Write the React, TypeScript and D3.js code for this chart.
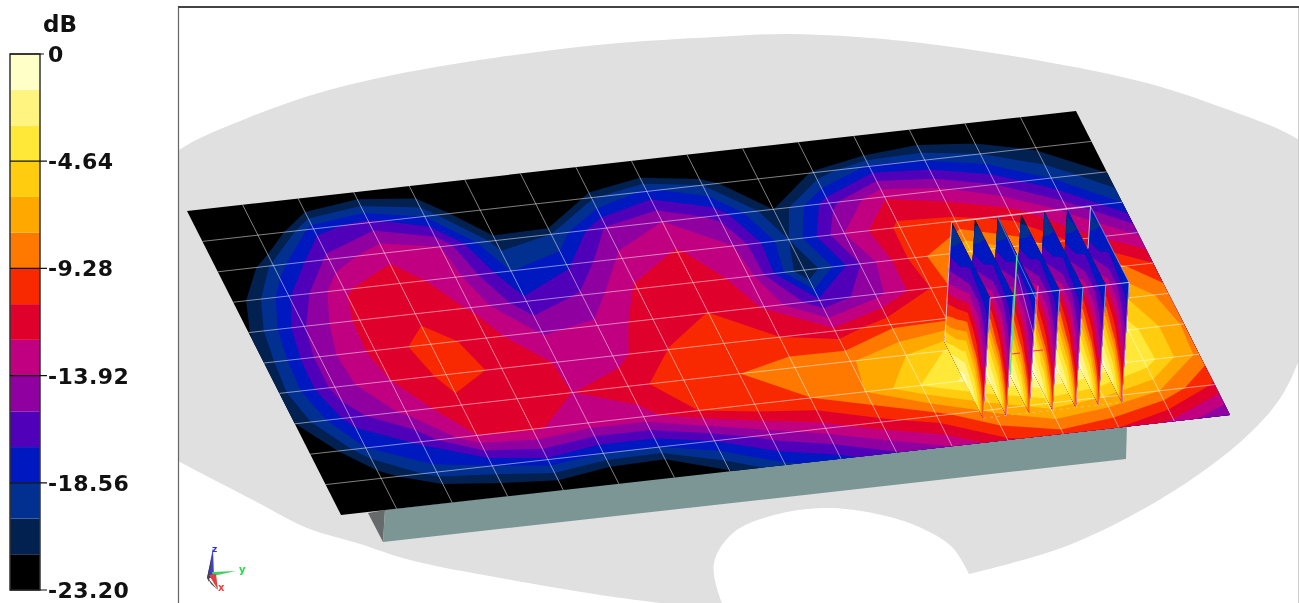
import React from "react";
import * as d3 from "d3";

// Legend
const legendTicks = [0, -4.64, -9.28, -13.92, -18.56, -23.2];
const legendLabels = ["0", "-4.64", "-9.28", "-13.92", "-18.56", "-23.20"];
const bandColors = ["#000000", "#022050", "#023090", "#0018c0", "#5000b8", "#9000a0", "#c00080", "#e0002c", "#f82800", "#ff7800", "#ffa800", "#ffcc10", "#ffe838", "#fff480", "#ffffc8"];
const bandEdges = d3.range(0, 16).map((i) => -23.2 + (i * 23.2) / 15);

// Plate field, dB, at the white grid crossings (row = across the plate)
const row0 = [-27.8, -27.8, -24.9, -23.2, -23.8, -27.8, -27.8, -27.8, -26.0, -27.8, -27.8, -27.8, -27.8, -24.7, -24.6, -26.3, -27.8];
const row1 = [-27.8, -25.2, -17.6, -16.4, -18.6, -25.4, -27.8, -20.4, -18.1, -20.1, -25.5, -21.3, -18.2, -18.6, -20.1, -22.0, -24.7];
const row2 = [-26.3, -19.6, -15.0, -12.8, -13.9, -20.9, -20.1, -15.2, -13.9, -15.9, -21.7, -16.0, -12.5, -13.5, -15.5, -18.6, -21.8];
const row3 = [-23.0, -17.2, -12.5, -11.6, -13.3, -18.6, -17.3, -13.5, -12.2, -13.9, -20.1, -13.9, -10.4, -10.4, -11.4, -14.4, -18.6];
const row4 = [-21.8, -15.6, -11.9, -11.3, -12.5, -16.7, -15.2, -12.1, -11.3, -13.1, -21.7, -15.5, -10.1, -6.2, -8.5, -11.6, -14.2];
const row5 = [-21.3, -14.8, -11.9, -10.1, -11.6, -14.1, -13.6, -11.4, -10.8, -12.5, -16.7, -14.5, -10.8, -6.2, -6.2, -7.7, -10.8];
const row6 = [-20.9, -14.8, -12.4, -10.4, -11.0, -12.5, -13.0, -10.8, -9.7, -10.8, -11.9, -9.7, -9.7, -5.4, -4.6, -5.4, -8.5];
const row7 = [-21.7, -16.2, -13.5, -11.1, -11.0, -12.4, -11.4, -9.9, -9.3, -8.4, -7.9, -6.2, -3.9, -2.3, -2.3, -3.9, -8.0];
const row8 = [-24.7, -18.6, -16.7, -12.4, -12.2, -13.0, -13.0, -10.8, -9.6, -9.3, -7.7, -4.6, -2.3, -0.8, -1.5, -3.7, -8.2];
const row9 = [-27.8, -22.7, -19.2, -18.6, -17.3, -18.6, -18.6, -17.0, -14.7, -13.1, -11.3, -9.9, -7.3, -5.4, -6.2, -7.7, -11.1];
const row10 = [-29.4, -27.8, -25.5, -24.0, -23.7, -25.5, -26.3, -21.8, -18.9, -17.6, -15.6, -13.9, -11.1, -9.9, -10.8, -12.8, -15.5];
const plateRows = [row0, row1, row2, row3, row4, row5, row6, row7, row8, row9, row10];

// Field on one fin: rows run from fin top to plate, columns from back to front
const finPos = [0, 0.25, 0.5, 0.75, 0.9, 1];
const finH0 = [-20.9, -18.6, -17.8, -17.6, -17.9, -18.6];
const finH1 = [-19.5, -17.9, -16.7, -17.2, -17.5, -17.9];
const finH2 = [-18.6, -17.2, -15.5, -15.5, -16.5, -17.3];
const finH3 = [-16.7, -15.5, -13.6, -14.1, -15.8, -16.5];
const finH4 = [-15.5, -13.9, -11.6, -12.7, -14.7, -15.8];
const finH5 = [-14.1, -12.1, -9.6, -11.4, -13.6, -15.0];
const finH6 = [-12.2, -10.2, -7.7, -10.1, -12.4, -14.2];
const finH7 = [-10.5, -8.5, -5.6, -7.6, -10.8, -12.7];
const finH8 = [-9.0, -6.5, -4.0, -5.4, -8.8, -11.8];
const finH9 = [-6.5, -4.2, -2.3, -3.6, -6.2, -10.8];
const finH10 = [-4.6, -2.3, -0.8, -2.2, -4.6, -10.1];
const finRows = [finH0, finH1, finH2, finH3, finH4, finH5, finH6, finH7, finH8, finH9, finH10];
const finU = [11.77, 12.19, 12.6, 13.02, 13.44, 13.85, 14.27];
const finTipDb = [-20.9, -20.9, -18.6, -22.4, -18.6, -17.0, -16.2];
const finV: [number, number] = [6.73, 9.23];

// Ground outline
const groundTop: [number, number][] = [[150, 178], [179, 150], [250, 117], [322, 92], [393, 75], [500, 57], [608, 44], [715, 37], [786, 34], [858, 37], [929, 44], [1036, 60], [1143, 82], [1215, 105], [1299, 140], [1330, 170]];
const groundRight: [number, number][] = [[1330, 250], [1299, 360], [1279, 400], [1250, 433], [1209, 467], [1147, 507], [1064, 547], [969, 574]];
const holeEdge: [number, number][] = [[969, 574], [952, 547], [919, 527], [882, 515], [828, 508], [774, 515], [733, 533], [714, 563], [722, 603], [735, 625]];
const groundLeft: [number, number][] = [[660, 603], [600, 595], [500, 578], [410, 560], [357, 543], [307, 528], [253, 500], [180, 462], [150, 445]];

const project = (() => {
  const ux = d3.scaleLinear().domain([0, 16]).range([0, 889]);
  const uy = d3.scaleLinear().domain([0, 16]).range([0, -100]);
  const vx = d3.scaleLinear().domain([0, 10]).range([0, 154]);
  const vy = d3.scaleLinear().domain([0, 10]).range([0, 304]);
  const hx = d3.scaleLinear().domain([0, 1]).range([0, 7]);
  const hy = d3.scaleLinear().domain([0, 1]).range([0, -120]);
  return (u: number, v: number, h = 0): [number, number] => [187 + ux(u) + vx(v) + hx(h), 211 + uy(u) + vy(v) + hy(h)];
})();

const poly = d3.line();
const closed = (pts: [number, number][]) => poly(pts) + "Z";

function bandPaths(rows: number[][], map: (cx: number, cy: number) => [number, number]) {
  const nx = rows[0].length, ny = rows.length;
  const gen = d3.contours().size([nx, ny]).smooth(true).thresholds(bandEdges.slice(1, 15));
  return gen(rows.flat()).map((c, i) => ({
    key: i,
    fill: bandColors[i + 1],
    d: c.coordinates.map((p) => p.map((r) => closed(r.map(([x, y]) => map(x, y)))).join("")).join(""),
  }));
}

const clamp = (a: number, lo: number, hi: number) => Math.max(lo, Math.min(hi, a));
const plateBands = bandPaths(plateRows, (x, y) => project(clamp(x - 0.5, 0, 16), clamp(y - 0.5, 0, 10)));
const plateOutline = closed([project(0, 0), project(16, 0), project(16, 10), project(0, 10)]);

const finSAt = d3.scaleLinear().domain(finPos.map((_, i) => i)).range(finPos);
const finHAt = d3.scaleLinear().domain([0, finRows.length - 1]).range([1, 0]);
const finVAt = d3.scaleLinear().domain([0, 1]).range(finV);
const fins = finU.map((u, i) => {
  const rows = finRows.map((r, j) => (j === 0 ? [finTipDb[i], ...r.slice(1)] : r));
  const map = (x: number, y: number) =>
    project(u, finVAt(finSAt(clamp(x - 0.5, 0, finPos.length - 1))), finHAt(clamp(y - 0.5, 0, finRows.length - 1)));
  return {
    u,
    bands: bandPaths(rows, map),
    outline: closed([project(u, finV[0], 0), project(u, finV[0], 1), project(u, finV[1], 1), project(u, finV[1], 0)]),
  };
});

const legendY = d3.scaleLinear().domain([0, -23.2]).range([54, 590]);
const wire = (a: [number, number], b: [number, number]) => poly([a, b]) as string;
const smooth = d3.line().curve(d3.curveCatmullRom.alpha(0.5));

export default function App() {
  const groundPath =
    smooth(groundTop) + "L" + smooth(groundRight)!.slice(1) + "L" + smooth(holeEdge)!.slice(1) + "L" + smooth(groundLeft)!.slice(1) + "Z";
  const lastU = finU[finU.length - 1];
  return (
    <svg width={1299} height={603} style={{ position: "absolute", left: 0, top: 0, background: "#fff", filter: "blur(0.35px)" }}>
      <defs>
        <clipPath id="panel"><rect x={179} y={8} width={1119} height={595} /></clipPath>
      </defs>
      <g clipPath="url(#panel)">
        <path d={groundPath} fill="#e0e0e0" />
        <polygon points="368,513 385,510 383,542" fill="#666a6a" />
        <polygon points="385,510 1127,424 1126,459 383,542" fill="#7c9595" />
      </g>
      <line x1={178.5} y1={7} x2={178.5} y2={603} stroke="#666" strokeWidth={1.2} />
      <line x1={178} y1={7} x2={1299} y2={7} stroke="#444" strokeWidth={2} />
      <line x1={1298.5} y1={8} x2={1298.5} y2={603} stroke="#ccc" />

      {/* plate */}
      <path d={plateOutline} fill={bandColors[0]} />
      {plateBands.map((b) => <path key={b.key} d={b.d} fill={b.fill} fillRule="evenodd" />)}
      <g stroke="#fff" strokeOpacity={0.5} strokeWidth={1} fill="none">
        {d3.range(1, 16).map((u) => <path key={"u" + u} d={wire(project(u, 0), project(u, 10))} />)}
        {d3.range(1, 10).map((v) => <path key={"v" + v} d={wire(project(0, v), project(16, v))} />)}
      </g>

      {/* fins, far one first */}
      {[...fins].reverse().map((f, i) => (
        <g key={i}>
          <path d={f.outline} fill={bandColors[0]} />
          {f.bands.map((b) => <path key={b.key} d={b.d} fill={b.fill} fillRule="evenodd" />)}
          <path d={wire(project(f.u, finV[1], 0), project(f.u, finV[1], 1))} stroke="#fff" strokeOpacity={0.5} />
        </g>
      ))}
      <g stroke="#fff" strokeOpacity={0.7} fill="none">
        <path d={wire(project(finU[0], finV[0], 1), project(lastU, finV[0], 1))} />
        <path d={wire(project(finU[0], finV[1], 1), project(lastU, finV[1], 1))} />
        <path d={wire(project(finU[0], finV[0], 0), project(finU[0], finV[0], 1))} />
        <path d={wire(project(lastU, finV[0], 0.65), project(lastU, finV[0], 1))} />
        <path d={wire(project(lastU, finV[0], 1), project(lastU, finV[1], 1))} strokeOpacity={0.45} />
        <path d={wire(project(finU[0], finV[1], 0), project(lastU, finV[1], 0))} strokeOpacity={0.3} strokeDasharray="3 4" />
        <path d={wire(project(finU[2], finV[0], 1), project(finU[2], finV[1], 0.95))} strokeOpacity={0.35} />
        <path d={wire(project(finU[3], finV[0], 0.5), project(finU[3], finV[0] + 1.6, 0.2))} strokeOpacity={0.35} />
        <path d={wire(project(finU[2] + 0.15, finV[1] - 0.4, 0.95), project(finU[2] + 0.15, finV[1] - 0.4, 0.3))} strokeOpacity={0.35} />
      </g>
      <line x1={1017} y1={255} x2={1010} y2={375} stroke="#58e878" strokeWidth={1.5} />
      <line x1={1012} y1={354} x2={1020} y2={353} stroke="#f03060" strokeWidth={1.2} />
      <line x1={1033} y1={351} x2={1043} y2={350} stroke="#f03060" strokeWidth={1.2} />

      {/* legend */}
      {bandColors.map((c, i) => (
        <rect key={c} x={10} y={legendY(bandEdges[i + 1])} width={30} height={legendY(bandEdges[i]) - legendY(bandEdges[i + 1])} fill={c} />
      ))}
      <rect x={10} y={54} width={30} height={536} fill="none" stroke="#333" strokeWidth={1.5} />
      {legendTicks.map((t, i) => (
        <g key={t}>
          <line x1={10} x2={i === 0 ? 44 : 47} y1={legendY(t)} y2={legendY(t)} stroke="#111" strokeWidth={1.2} />
          <text x={48} y={legendY(t) + 8} fontFamily="DejaVu Sans" fontWeight={700} fontSize={22} letterSpacing={0.4} fill="#111">
            {legendLabels[i]}
          </text>
        </g>
      ))}
      <text x={43} y={32} fontFamily="DejaVu Sans" fontWeight={700} fontSize={23} fill="#111">dB</text>

      {/* axis triad */}
      <polygon points="207,578 213,548 214,578" fill="#4040d0" />
      <polygon points="207,578 212,556 209,582" fill="#444" />
      <polygon points="212,572 236,571 213,576" fill="#40d060" />
      <polygon points="209,575 218,590 216,574" fill="#e04040" />
      <polygon points="207,577 218,590 211,584" fill="#555" />
      <text x={212} y={552} fontSize={9} fontFamily="DejaVu Sans" fontWeight={700} fill="#3030e0">z</text>
      <text x={239} y={573} fontSize={10} fontFamily="DejaVu Sans" fontWeight={700} fill="#20e040">y</text>
      <text x={218} y={591} fontSize={10} fontFamily="DejaVu Sans" fontWeight={700} fill="#f04040">x</text>
    </svg>
  );
}
